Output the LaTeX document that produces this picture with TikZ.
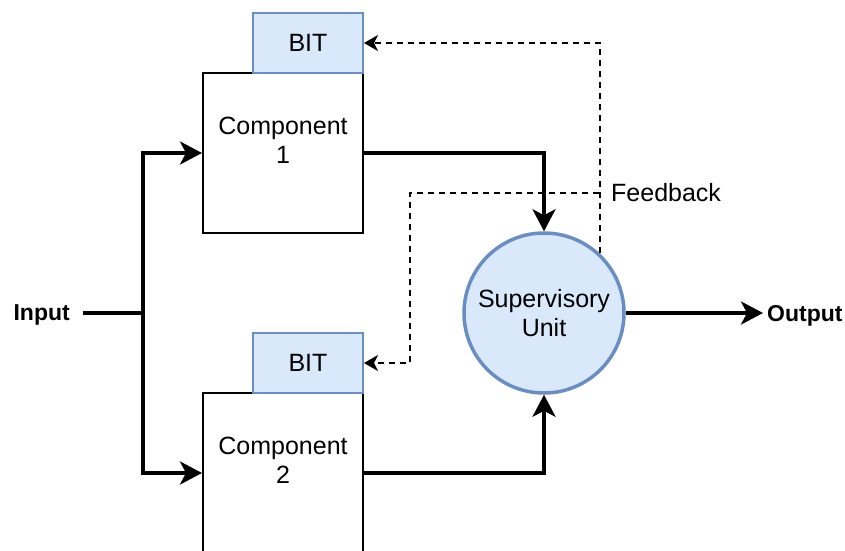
\documentclass[tikz,border=0pt]{standalone}
\usepackage{fontspec}
\setmainfont{Liberation Sans}
\usetikzlibrary{arrows.meta}
\definecolor{bitfill}{HTML}{DAE8FC}
\definecolor{bitline}{HTML}{6C8EBF}
\begin{document}
\begin{tikzpicture}[x=1pt,y=-1pt,
  font=\fontsize{25}{29}\selectfont,
  comp/.style={draw, line width=2pt, minimum width=160pt, minimum height=160pt, inner sep=0pt, fill=white},
  comptext/.style={align=center, inner sep=0pt},
  bitbox/.style={draw=bitline, fill=bitfill, line width=2pt, minimum width=110pt, minimum height=60pt, inner sep=0pt},
  unit/.style={circle, draw=bitline, fill=bitfill, line width=3.5pt, minimum size=160pt, inner sep=0pt, align=center},
  trunk/.style={line width=3.5pt},
  flow/.style={line width=3.5pt, -{Stealth[length=22pt,width=23pt,inset=6pt]}},
  fbline/.style={line width=2pt, dash pattern=on 6pt off 5pt},
  fb/.style={fbline, -{Stealth[length=14pt,width=16pt,inset=4pt]}},
  endlabel/.style={font=\fontsize{23}{28}\selectfont\bfseries, text depth=0pt, inner ysep=0pt}
]
\useasboundingbox (0,0) rectangle (845,550);

% components with their built-in test boxes
\node[comp] (c1) at (283,153) {};
\node[comptext] (c1text) at (283,140) {Component\\1};
\node[bitbox] (bit1) at (308,43) {BIT};
\node[comp] (c2) at (283,473) {};
\node[comptext] (c2text) at (283,460) {Component\\2};
\node[bitbox] (bit2) at (308,363) {BIT};

% supervisory unit
\node[unit] (unit) at (544,313) {Supervisory\\Unit};

% input / output labels
\node[endlabel, anchor=east, inner xsep=13pt] (inp) at (83,313) {Input};
\node[endlabel, anchor=west, inner xsep=4pt] (outp) at (763,313) {Output};
\coordinate (split) at (143,313);

% signal flow
\draw[trunk] (inp.east) -- (split);
\draw[flow] (split) |- (c1.west);
\draw[flow] (split) |- (c2.west);
\draw[flow] (c1.east) -| (unit.north);
\draw[flow] (c2.east) -| (unit.south);
\draw[flow] (unit.east) -- (outp.west);

% feedback to the BIT boxes
\coordinate (tap) at (599,193);
\coordinate (bend) at (410,193);
\draw[fb] (unit.47) |- (bit1.east);
\draw[fb] (tap) -- (bend) |- (bit2.east);
\node[anchor=west, inner xsep=4pt, inner ysep=0pt] (fblabel) at (607,193) {Feedback};
\end{tikzpicture}
\end{document}
